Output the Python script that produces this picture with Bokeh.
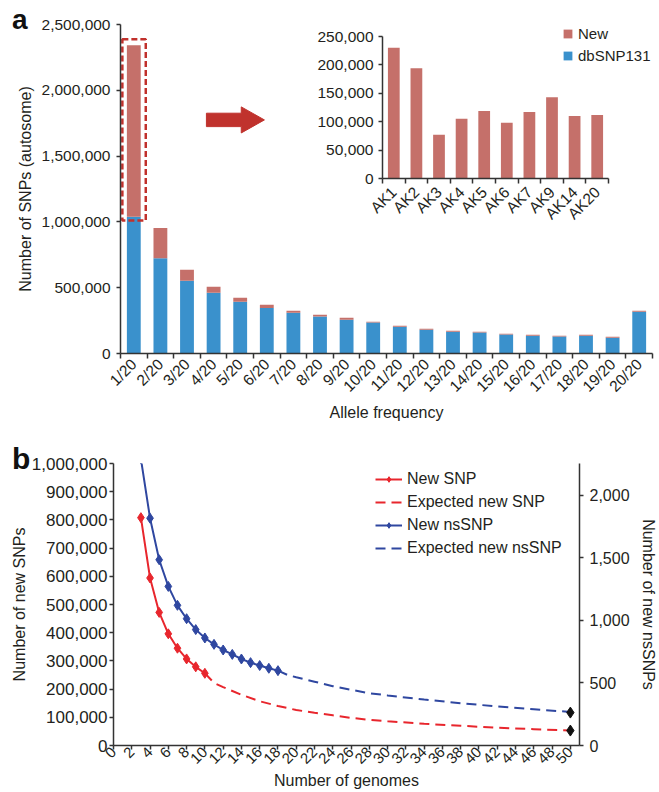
from math import pi
from bokeh.plotting import figure
from bokeh.layouts import column
from bokeh.models import (Range1d, LinearAxis, FixedTicker, NumeralTickFormatter,
                          Legend, LegendItem, ColumnDataSource, Div)
from bokeh.embed import file_html
from bokeh.resources import INLINE

# ---------------- data ----------------
freq_labels = ["1/20", "2/20", "3/20", "4/20", "5/20", "6/20", "7/20", "8/20", "9/20", "10/20",
               "11/20", "12/20", "13/20", "14/20", "15/20", "16/20", "17/20", "18/20", "19/20", "20/20"]
dbsnp131 = [1040000, 723000, 553000, 462000, 393000, 345000, 310000, 282000, 256000, 236000,
            203000, 180000, 165000, 160000, 145000, 135000, 129000, 135000, 119000, 317000]
total_snps = [2342000, 954000, 637000, 507000, 424000, 370000, 325000, 294000, 272000, 241000,
              211000, 188000, 173000, 165000, 150000, 142000, 135000, 142000, 127000, 325000]
new_snps = [t - d for t, d in zip(total_snps, dbsnp131)]

samples = ["AK1", "AK2", "AK3", "AK4", "AK5", "AK6", "AK7", "AK9", "AK14", "AK20"]
sample_new = [230000, 194000, 77000, 105000, 119000, 98000, 117000, 143000, 110000, 112000]

obs_genomes = [3, 4, 5, 6, 7, 8, 9, 10]
obs_new_snp = [808000, 594000, 472000, 396000, 345000, 307000, 279000, 256000]
exp_genomes = [10, 11, 12, 14, 16, 18, 20, 22, 24, 26, 28, 30, 34, 38, 42, 46, 50]
exp_new_snp = [256000, 222000, 207000, 180000, 157000, 140000, 126000, 116000, 107000, 98000,
               91000, 86000, 77000, 70000, 63000, 58000, 53000]
ns_genomes = [3, 4, 5, 6, 7, 8, 9, 10, 11, 12, 13, 14, 15, 16, 17, 18]
obs_new_ns = [2290, 1816, 1484, 1271, 1120, 1013, 926, 859, 808, 763, 728, 691, 662, 639, 617, 598]
exp_ns_genomes = [18, 19, 20, 22, 24, 26, 28, 30, 34, 38, 42, 46, 50]
exp_new_ns = [598, 565, 545, 510, 474, 445, 418, 400, 367, 338, 312, 290, 268]
proj_genome = [50]
proj_snp = [53000]
proj_ns = [263]

# ---------------- style ----------------
FONT = "Liberation Sans"
TXT = "#231f20"
AX = "#333333"
C_NEW = "#c5706a"
C_DB = "#3a91cc"
C_RED = "#e8262d"
C_BLUE = "#2f47a0"
C_BOX = "#c1312c"


def style_axis(ax, fs="15.5px"):
    ax.axis_line_color = AX
    ax.axis_line_width = 1.5
    ax.major_tick_line_color = AX
    ax.major_tick_line_width = 1.5
    ax.minor_tick_line_color = AX
    ax.minor_tick_line_width = 1.5
    ax.major_tick_in = 0
    ax.major_tick_out = 4
    ax.minor_tick_in = 0
    ax.minor_tick_out = 0
    ax.major_label_text_font = FONT
    ax.major_label_text_font_size = fs
    ax.major_label_text_color = TXT
    ax.axis_label_text_font = FONT
    ax.axis_label_text_font_size = "16px"
    ax.axis_label_text_font_style = "normal"
    ax.axis_label_text_color = TXT


def clean(p):
    p.grid.visible = False
    p.outline_line_color = None
    p.background_fill_color = None
    p.border_fill_color = None


# ---------------- panel a ----------------
n = len(freq_labels)
xs = list(range(n))
src = ColumnDataSource(dict(x=xs, db=dbsnp131, new=new_snps))

pa = figure(width=659, height=440, x_range=Range1d(-0.5, n - 0.5), y_range=Range1d(0, 2500000),
            output_backend="svg", toolbar_location=None, frame_align=False,
            min_border_left=120, min_border_right=7, min_border_top=24, min_border_bottom=87)
clean(pa)
rs = pa.vbar_stack(["db", "new"], x="x", width=0.52, source=src, color=[C_DB, C_NEW], line_color=None)

style_axis(pa.yaxis[0])
pa.yaxis.ticker = FixedTicker(ticks=[0, 500000, 1000000, 1500000, 2000000, 2500000])
pa.yaxis.formatter = NumeralTickFormatter(format="0,0")
pa.yaxis.axis_label = "Number of SNPs (autosome)"
pa.yaxis.major_label_standoff = 6
pa.yaxis.axis_label_standoff = 5

style_axis(pa.xaxis[0])
pa.xaxis.ticker = FixedTicker(ticks=xs, minor_ticks=[i - 0.5 for i in range(n + 1)])
pa.xaxis.major_label_overrides = {i: lab for i, lab in zip(xs, freq_labels)}
pa.xaxis.major_tick_out = 0
pa.xaxis.minor_tick_out = 5
pa.xaxis.major_label_orientation = pi / 4
pa.xaxis.major_label_standoff = 3
pa.xaxis.axis_label = "Allele frequency"
pa.xaxis.axis_label_standoff = 0

# dashed highlight box around the new SNPs of the first bar
pa.quad(left=[xs[0] - 0.43], right=[xs[0] + 0.45], bottom=[dbsnp131[0] - 30000], top=[total_snps[0] + 45000],
        fill_color=None, line_color=C_BOX, line_width=2.5, line_dash="6 3")
# block arrow
pa.patch([2.73, 4.04, 4.04, 4.91, 4.04, 4.04, 2.73],
         [1724000, 1724000, 1676000, 1775000, 1874000, 1826000, 1826000],
         fill_color="#c0322d", line_color="#c0322d", line_width=1)

leg_a = Legend(items=[LegendItem(label="New", renderers=[rs[1]]),
                      LegendItem(label="dbSNP131", renderers=[rs[0]])],
               location=(442, 289), background_fill_alpha=0, border_line_color=None,
               padding=0, margin=0, glyph_width=11, glyph_height=11, label_standoff=5,
               spacing=5, label_text_font=FONT, label_text_font_size="15px",
               label_text_color=TXT, label_height=11)
pa.add_layout(leg_a)

# ---------------- inset ----------------
m = len(samples)
sx = list(range(m))
pin = figure(width=351, height=205, x_range=Range1d(-0.5, m - 0.5), y_range=Range1d(0, 250000),
             output_backend="svg", toolbar_location=None, frame_align=False,
             min_border_left=82, min_border_right=43, min_border_top=10, min_border_bottom=52,
             margin=(-414, 0, 0, 300))
clean(pin)
pin.vbar(x=sx, top=sample_new, width=0.52, color=C_NEW, line_color=None)
style_axis(pin.yaxis[0])
pin.yaxis.ticker = FixedTicker(ticks=[0, 50000, 100000, 150000, 200000, 250000])
pin.yaxis.formatter = NumeralTickFormatter(format="0,0")
pin.yaxis.major_label_standoff = 5
style_axis(pin.xaxis[0])
pin.xaxis.ticker = FixedTicker(ticks=sx, minor_ticks=[i - 0.5 for i in range(m + 1)])
pin.xaxis.major_label_overrides = {i: lab for i, lab in zip(sx, samples)}
pin.xaxis.major_tick_out = 0
pin.xaxis.minor_tick_out = 5
pin.xaxis.major_label_orientation = pi / 4
pin.xaxis.major_label_standoff = 6

# ---------------- panel b ----------------
pb = figure(width=659, height=352, x_range=Range1d(0, 51), y_range=Range1d(0, 1000000),
            output_backend="svg", toolbar_location=None, frame_align=False,
            min_border_left=113, min_border_right=76, min_border_top=23, min_border_bottom=47,
            margin=(209, 0, 0, 0))
clean(pb)
pb.extra_y_ranges = {"ns": Range1d(0, 2253)}

r1 = pb.line(obs_genomes, obs_new_snp, line_color=C_RED, line_width=2)
r1m = pb.scatter(obs_genomes, obs_new_snp, marker="diamond", size=10, color=C_RED)
r2 = pb.line(exp_genomes, exp_new_snp, line_color=C_RED, line_width=2, line_dash="10 6")
r3 = pb.line(ns_genomes, obs_new_ns, line_color=C_BLUE, line_width=2, y_range_name="ns")
r3m = pb.scatter(ns_genomes, obs_new_ns, marker="diamond", size=10, color=C_BLUE, y_range_name="ns")
r4 = pb.line(exp_ns_genomes, exp_new_ns, line_color=C_BLUE, line_width=2, line_dash="10 6", y_range_name="ns")
pb.scatter(proj_genome, proj_snp, marker="diamond", size=11, color="#111111")
pb.scatter(proj_genome, proj_ns, marker="diamond", size=11, color="#111111", y_range_name="ns")

style_axis(pb.yaxis[0], fs="17px")
pb.yaxis.ticker = FixedTicker(ticks=list(range(0, 1000001, 100000)))
pb.yaxis.formatter = NumeralTickFormatter(format="0,0")
pb.yaxis.axis_label = "Number of new SNPs"
pb.yaxis.major_label_standoff = 2
pb.yaxis.axis_label_standoff = 1

ax_r = LinearAxis(y_range_name="ns", axis_label="Number of new nsSNPs",
                  ticker=FixedTicker(ticks=[0, 500, 1000, 1500, 2000]),
                  formatter=NumeralTickFormatter(format="0,0"))
style_axis(ax_r, fs="16px")
ax_r.major_label_standoff = 6
ax_r.axis_label_standoff = 7
pb.add_layout(ax_r, "right")

style_axis(pb.xaxis[0], fs="15px")
pb.xaxis.ticker = FixedTicker(ticks=list(range(0, 51, 2)))
pb.xaxis.major_label_orientation = pi / 4
pb.xaxis.major_label_standoff = 0
pb.xaxis.axis_label = "Number of genomes"
pb.xaxis.axis_label_standoff = 1

leg_b = Legend(items=[LegendItem(label="New SNP", renderers=[r1, r1m]),
                      LegendItem(label="Expected new SNP", renderers=[r2]),
                      LegendItem(label="New nsSNP", renderers=[r3, r3m]),
                      LegendItem(label="Expected new nsSNP", renderers=[r4])],
               location=(262, 188), background_fill_alpha=0, border_line_color=None,
               padding=0, margin=0, glyph_width=27, glyph_height=14, label_standoff=5,
               spacing=5, label_text_font=FONT, label_text_font_size="16px",
               label_text_color=TXT, label_height=14)
pb.add_layout(leg_b)

# ---------------- panel letters ----------------
letter_style = {"font-family": FONT, "font-weight": "bold", "line-height": "1", "color": "#111111"}
div_a = Div(text="a", width=24, height=36, margin=(-786, 0, 0, 12),
            styles=dict(letter_style, **{"font-size": "28px"}))
div_b = Div(text="b", width=24, height=36, margin=(402, 0, 0, 12),
            styles=dict(letter_style, **{"font-size": "30px"}))

layout = column(pa, pin, pb, div_a, div_b, spacing=0)
open("out.html", "w").write(file_html(layout, INLINE))
